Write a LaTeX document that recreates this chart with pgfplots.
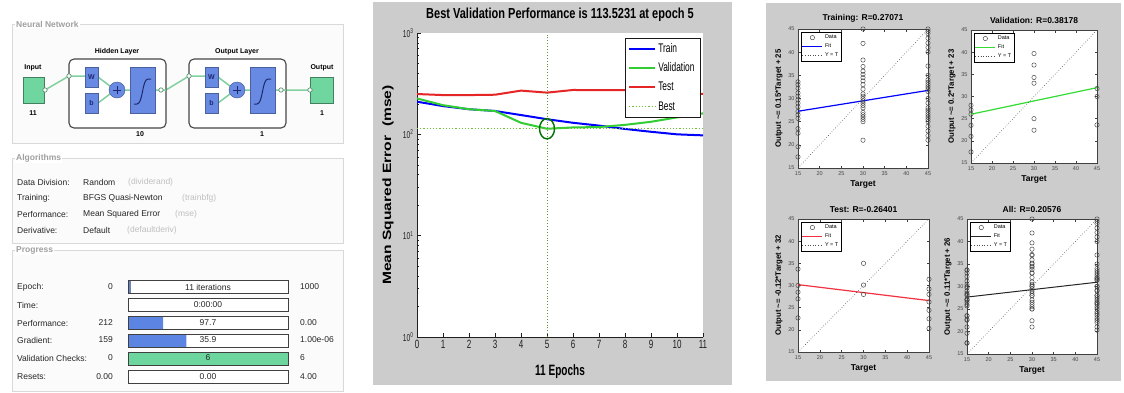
\documentclass[border=0pt]{standalone}
\usepackage{fontspec}
\setmainfont{Liberation Sans}
\newfontfamily\condfont[FakeStretch=0.67]{Liberation Sans}
\newfontfamily\titlefont[FakeStretch=0.76]{Liberation Sans}
\newfontfamily\widefont[FakeStretch=1.3]{Liberation Sans}
\usepackage{pgfplots}
\pgfplotsset{compat=1.18}
\usepackage{pgfplotstable}

\definecolor{nngreen}{RGB}{112,214,160}
\definecolor{nnblue}{RGB}{104,138,226}
\definecolor{nnnavy}{RGB}{28,40,110}
\definecolor{nnline}{RGB}{130,208,160}
\definecolor{barblue}{RGB}{92,132,226}
\definecolor{bargreen}{RGB}{108,214,158}
\definecolor{figbg}{gray}{0.80}
\definecolor{bestgreen}{RGB}{110,190,60}
\definecolor{valgreen}{RGB}{50,205,50}
\definecolor{testred}{RGB}{230,38,38}
\definecolor{fitgreen}{RGB}{50,220,50}
\definecolor{fitred}{RGB}{242,50,64}

% performance curves (mse per epoch)
\pgfplotstableread{
e train val test
0 210 226 250
1 190 194 244
2 177 177 244
3 170 170 246
4 155 130 270
5 141 113.5231 258
6 130 117 274
7 122 118 273
8 113 124 273
9 106 133 272
10 100 147 268
11 97.7 161 250
}\perfData

% regression data: target, output
\pgfplotstableread{
t o
15 17.4
15 19.6
15 22.5
15 23.5
15 25.7
15 26.5
15 27.2
15 28.2
15 29
15 29.7
15 30.5
15 31.2
15 32.2
15 33
15 33.6
30 21
30 25
30 25.5
30 26
30 26.5
30 27
30 28
30 28.5
30 29
30 29.5
30 30
30 30.5
30 31
30 32
30 33
30 33.8
30 34.5
30 35.2
30 35.9
30 36.9
30 38.3
30 41.9
30 45
45 21
45 22
45 23
45 24
45 25
45 25.5
45 26
45 26.5
45 27
45 27.5
45 28
45 29
45 30
45 31.5
45 32
45 32.5
45 33
45 33.5
45 34
45 35
45 37
45 40
45 41
45 42
45 43
45 44
45 44.5
45 45
}\trainData
\pgfplotstableread{
t o
15 17.5
15 21
15 23.5
15 26
15 27
15 28
30 22.4
30 25
30 33
30 34.3
30 37.1
30 39.7
45 23.6
45 30
45 31.8
}\valData
\pgfplotstableread{
t o
15 22.7
15 27
15 28.5
15 30
15 33.7
30 28
30 30.1
30 35
45 20.3
45 22.5
45 24.4
45 26.3
45 28
45 29.2
45 31.4
}\testData

\pgfplotsset{
  reg/.style={scale only axis, xmin=15, xmax=45, ymin=15, ymax=45,
    xtick={15,20,25,30,35,40,45}, ytick={15,20,25,30,35,40,45},
    xticklabels={15,20,25,30,35,40,45}, yticklabels={15,20,25,30,35,40,45},
    tick align=inside, major tick length=2.5pt,
    tick style={gray!50!black, line width=0.4pt},
    axis line style={gray!50!black, line width=0.5pt},
    axis background/.style={fill=white},
    tick label style={font=\fontsize{5.5}{6}\selectfont, text=gray!55!black},
    title style={font=\fontsize{8.5}{10}\selectfont\bfseries, yshift=-3pt},
    xlabel style={font=\fontsize{8.5}{10}\selectfont\bfseries, yshift=2pt},
    ylabel style={font=\fontsize{7.8}{9}\selectfont\bfseries, yshift=-1pt},
    legend style={at={(0.02,0.98)}, anchor=north west, font=\fontsize{5.5}{6.5}\selectfont,
      draw=black, inner sep=1pt, row sep=-0.5pt, cells={anchor=west}},
    legend image code/.code={\draw[mark repeat=2,mark phase=2,##1] plot coordinates {(0pt,0pt) (10pt,0pt) (20pt,0pt)};},
    clip=false, xlabel={Target}},
  dat/.style={only marks, mark=o, mark size=2.2pt, draw=gray!50!black, mark options={line width=0.45pt, draw=gray!50!black}},
  yeqt/.style={dotted, gray!60!black, line width=0.6pt}
}

\newcommand{\nnlayer}{%
  \draw[gray!55!black, line width=1.1pt, rounded corners=5pt, fill=white] (69,-59) rectangle (166,-128);
  \draw[nnline, line width=1.5pt] (69,-76) -- (85,-76) (98,-77) -- (110,-86) (98,-103) -- (110,-94) (125,-90) -- (130,-90) (155,-90) -- (166,-90);
  \filldraw[fill=nnblue, draw=nnblue!70!black] (85,-67) rectangle (98,-87);
  \filldraw[fill=nnblue, draw=nnblue!70!black] (85,-93) rectangle (98,-113);
  \node[font=\bfseries\fontsize{7}{8}\selectfont, text=nnnavy] at (91.5,-77) {W};
  \node[font=\bfseries\fontsize{7}{8}\selectfont, text=nnnavy] at (91.5,-103) {b};
  \filldraw[fill=nnblue, draw=nnblue!60!black] (117,-90) circle (8pt);
  \draw[nnnavy, line width=1pt] (113,-90) -- (121,-90) (117,-86) -- (117,-94);
  \filldraw[fill=nnblue, draw=nnblue!70!black] (130,-67) rectangle (155,-113);
  \draw[nnnavy, line width=1pt] (134,-104) -- (137,-104) .. controls (143,-104) and (142,-79) .. (148,-79) -- (151,-79);
  \filldraw[fill=white, draw=nnline!70!black, line width=0.7pt] (69,-76) circle (2.2pt) (161,-90) circle (2.2pt);
}

\begin{document}
\begin{tikzpicture}
\useasboundingbox (0pt,0pt) rectangle (1124pt,-392pt);
\fill[white] (0pt,0pt) rectangle (1124pt,-392pt);

\begin{scope}[x=1pt,y=1pt]
%================ LEFT: nntraintool panel =================
\draw[gray!30, fill=gray!3] (12,-24) rectangle (343,-143);
\node[anchor=west, fill=white, inner sep=1pt, text=gray!75, font=\fontsize{8.5}{10}\selectfont\bfseries] at (15,-24) {Neural Network};

\filldraw[fill=nngreen, draw=nngreen!60!black] (23,-77) rectangle (44,-103);
\filldraw[fill=nngreen, draw=nngreen!60!black] (310,-77) rectangle (333,-103);
\node[font=\bfseries\fontsize{7}{8}\selectfont] at (33,-68) {Input};
\node[font=\bfseries\fontsize{7}{8}\selectfont] at (33,-113) {11};
\node[font=\bfseries\fontsize{7}{8}\selectfont] at (322,-68) {Output};
\node[font=\bfseries\fontsize{7}{8}\selectfont] at (322,-113) {1};
\draw[nnline, line width=1.5pt] (45,-90) -- (69,-76) (166,-90) -- (189,-76) (286,-90) -- (310,-90);
\nnlayer
\begin{scope}[xshift=120pt]\nnlayer\end{scope}
\filldraw[fill=white, draw=nnline!70!black, line width=0.7pt] (45,-90) circle (2.2pt) (310,-90) circle (2.2pt);
\node[font=\bfseries\fontsize{7}{8}\selectfont] at (117,-52) {Hidden Layer};
\node[font=\bfseries\fontsize{7}{8}\selectfont] at (237,-52) {Output Layer};
\node[font=\bfseries\fontsize{7}{8}\selectfont] at (140,-134) {10};
\node[font=\bfseries\fontsize{7}{8}\selectfont] at (262,-134) {1};

% Algorithms
\draw[gray!30, fill=gray!3] (12,-158) rectangle (343,-243);
\node[anchor=west, fill=white, inner sep=1pt, text=gray!75, font=\fontsize{8.5}{10}\selectfont\bfseries] at (15,-158) {Algorithms};
\begin{scope}[every node/.style={anchor=west, inner sep=0pt, font=\fontsize{8.5}{10}\selectfont, text=black!85}]
\node at (17,-182) {Data Division:};
\node at (83,-182) {Random};
\node[text=gray!50] at (128,-182) {(dividerand)};
\node at (17,-198) {Training:};
\node at (83,-198) {BFGS Quasi-Newton};
\node[text=gray!50] at (182,-198) {(trainbfg)};
\node at (17,-214) {Performance:};
\node at (83,-214) {Mean Squared Error};
\node[text=gray!50] at (175,-214) {(mse)};
\node at (17,-230) {Derivative:};
\node at (83,-230) {Default};
\node[text=gray!50] at (127,-230) {(defaultderiv)};
\end{scope}

% Progress
\draw[gray!30, fill=gray!3] (12,-250) rectangle (343,-391);
\node[anchor=west, fill=white, inner sep=1pt, text=gray!75, font=\fontsize{8.5}{10}\selectfont\bfseries] at (15,-250) {Progress};

%================ backgrounds of the two figures =================
\fill[figbg] (373,-2) rectangle (732,-385);
\fill[figbg] (766,-3) rectangle (1121,-381);
\end{scope}

% progress bars
\begin{axis}[at={(128pt,-278pt)}, anchor=north west, scale only axis, width=160pt, height=108pt,
  xmin=0, xmax=1, ymin=0.5, ymax=6.5, y dir=reverse, hide axis, xbar, bar width=13pt, bar shift=0pt, clip=false]
\addplot[fill=white, draw=none] coordinates {(1,1) (1,2) (1,3) (1,4) (1,5) (1,6)};
\addplot[fill=barblue!70!gray, draw=none] coordinates {(0.02,1)};
\addplot[fill=barblue, draw=none] coordinates {(0.22,3) (0.365,4)};
\addplot[fill=bargreen, draw=none] coordinates {(1,5)};
\addplot[fill=none, draw=gray!50!black, line width=0.9pt] coordinates {(1,1) (1,2) (1,3) (1,4) (1,5) (1,6)};
\end{axis}

\begin{scope}[x=1pt,y=1pt,every node/.style={inner sep=0pt, font=\fontsize{8.5}{10}\selectfont, text=black!85}]
\node[anchor=west] at (17,-287) {Epoch:};
\node[anchor=west] at (17,-305) {Time:};
\node[anchor=west] at (17,-323) {Performance:};
\node[anchor=west] at (17,-340) {Gradient:};
\node[anchor=west] at (17,-358) {Validation Checks:};
\node[anchor=west] at (17,-377) {Resets:};
\node[anchor=east] at (113,-287) {0};
\node[anchor=east] at (113,-323) {212};
\node[anchor=east] at (113,-340) {159};
\node[anchor=east] at (113,-358) {0};
\node[anchor=east] at (113,-377) {0.00};
\node at (208,-287) {11 iterations};
\node at (208,-305) {0:00:00};
\node at (208,-323) {97.7};
\node at (208,-340) {35.9};
\node at (208,-358) {6};
\node at (208,-377) {0.00};
\node[anchor=west] at (300,-287) {1000};
\node[anchor=west] at (300,-323) {0.00};
\node[anchor=west] at (300,-340) {1.00e-06};
\node[anchor=west] at (300,-358) {6};
\node[anchor=west] at (300,-377) {4.00};
\end{scope}

%================ MIDDLE: performance plot =================
\begin{axis}[at={(417pt,-33pt)}, anchor=north west, scale only axis, width=286pt, height=304pt,
  ymode=log, xmin=0, xmax=11, ymin=1, ymax=1000,
  xtick={0,1,2,3,4,5,6,7,8,9,10,11}, xticklabels={0,1,2,3,4,5,6,7,8,9,10,11},
  ytick={1,10,100,1000},
  yticklabels={10\textsuperscript{0},10\textsuperscript{1},10\textsuperscript{2},10\textsuperscript{3}},
  minor ytick={2,3,4,5,6,7,8,9,20,30,40,50,60,70,80,90,200,300,400,500,600,700,800,900},
  axis x line*=bottom, axis y line*=left,
  axis line style={-, gray!25!black, line width=0.8pt},
  tick align=inside, major tick length=4pt, minor tick length=2pt,
  tick style={gray!25!black, line width=0.6pt},
  axis background/.style={fill=white},
  xticklabel style={font=\condfont\fontsize{12}{13}\selectfont, text=gray!25!black},
  yticklabel style={font=\condfont\fontsize{10}{11}\selectfont, text=gray!25!black},
  title={Best Validation Performance is 113.5231 at epoch 5},
  title style={font=\titlefont\bfseries\fontsize{14.5}{16}\selectfont, at={(0.5,1)}, anchor=south, yshift=2pt},
  xlabel={11 Epochs},
  xlabel style={font=\condfont\bfseries\fontsize{15}{16}\selectfont, at={(axis description cs:0.5,0)}, anchor=center, yshift=-35pt},
  ylabel={Mean Squared Error\ \ (mse)},
  ylabel style={font=\widefont\bfseries\fontsize{12}{13}\selectfont, at={(axis description cs:-0.101,0.5)}, anchor=center},
  legend style={at={(0.99,0.985)}, anchor=north east, draw=gray!20!black, fill=white,
    font=\condfont\fontsize{12.5}{14}\selectfont, row sep=5pt, inner sep=3.5pt, cells={anchor=west}},
  legend image code/.code={\draw[#1] (0pt,0pt) -- (26pt,0pt);},
]
\addplot[blue, line width=2pt] table[x=e, y=train] {\perfData};
\addplot[valgreen, line width=2pt] table[x=e, y=val] {\perfData};
\addplot[testred, line width=2pt] table[x=e, y=test] {\perfData};
\addplot[bestgreen, dotted, line width=1.2pt] coordinates {(0,113.5231) (11,113.5231)};
\addplot[bestgreen!80!black, dotted, line width=0.9pt, forget plot] coordinates {(5,1) (5,1000)};
\addplot[only marks, mark=o, mark size=7.5pt, forget plot, mark options={draw=green!45!black, line width=1.4pt, yscale=1.35}] coordinates {(5,113.5231)};
\legend{Train, Validation, Test, Best}
\end{axis}

%================ RIGHT: regression plots =================
\begin{axis}[reg, at={(798pt,-29pt)}, anchor=north west, width=130pt, height=139pt,
  title={Training: R=0.27071}, ylabel={Output \textasciitilde= 0.15*Target + 25}]
\addplot[dat] table[x=t, y=o] {\trainData};
\addplot[blue, line width=1.2pt] coordinates {(15,27.25) (45,31.75)};
\addplot[yeqt] coordinates {(15,15) (45,45)};
\legend{Data, Fit, Y = T}
\end{axis}

\begin{axis}[reg, at={(971pt,-30pt)}, anchor=north west, width=126pt, height=133pt,
  title={Validation: R=0.38178}, ylabel={Output \textasciitilde= 0.2*Target + 23}]
\addplot[dat] table[x=t, y=o] {\valData};
\addplot[fitgreen, line width=1.2pt] coordinates {(15,26) (45,32)};
\addplot[yeqt] coordinates {(15,15) (45,45)};
\legend{Data, Fit, Y = T}
\end{axis}

\begin{axis}[reg, at={(798pt,-219pt)}, anchor=north west, width=131pt, height=133pt,
  title={Test: R=-0.26401}, ylabel={Output \textasciitilde= -0.12*Target + 32}]
\addplot[dat] table[x=t, y=o] {\testData};
\addplot[fitred, line width=1.2pt] coordinates {(15,30.2) (45,26.6)};
\addplot[yeqt] coordinates {(15,15) (45,45)};
\legend{Data, Fit, Y = T}
\end{axis}

\begin{axis}[reg, at={(967pt,-219pt)}, anchor=north west, width=130pt, height=135pt,
  title={All: R=0.20576}, ylabel={Output \textasciitilde= 0.11*Target + 26}]
\addplot[dat] table[x=t, y=o] {\trainData};
\addplot[gray!30!black, line width=1pt] coordinates {(15,27.65) (45,30.95)};
\addplot[yeqt] coordinates {(15,15) (45,45)};
\addplot[dat, forget plot] table[x=t, y=o] {\valData};
\addplot[dat, forget plot] table[x=t, y=o] {\testData};
\legend{Data, Fit, Y = T}
\end{axis}

\end{tikzpicture}
\end{document}
